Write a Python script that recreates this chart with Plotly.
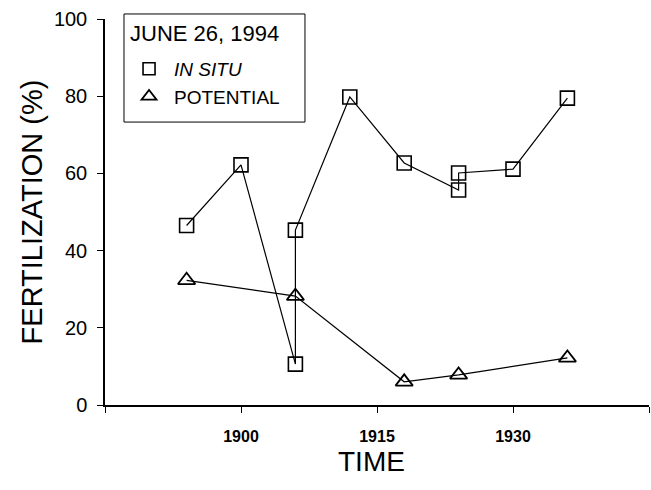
import plotly.graph_objects as go

DATE = "1994-06-26"
legend_title = "JUNE 26, 1994"
insitu_time = ["18:54", "19:00", "19:06", "19:06", "19:12", "19:18", "19:24", "19:24", "19:30", "19:36"]
insitu_pct = [46.5, 62.2, 10.6, 45.3, 79.8, 62.7, 55.7, 60.1, 61.1, 79.5]
potential_time = ["18:54", "19:06", "19:18", "19:24", "19:36"]
potential_pct = [32.3, 28.2, 6.0, 7.8, 12.2]
x_tick_times = ["18:45", "19:00", "19:15", "19:30", "19:45"]
x_tick_labels = ["", "1900", "1915", "1930", ""]
y_ticks = [0, 20, 40, 60, 80, 100]
x_title = "TIME"
y_title = "FERTILIZATION (%)"


def ts(t):
    return f"{DATE} {t}:00"


FONT = "Liberation Sans, Arial, sans-serif"

fig = go.Figure()

sq_marker = dict(symbol="square-open", size=14, color="black", line=dict(width=1.6, color="black"))
tri_marker = dict(symbol="triangle-up-open", size=15, color="black", line=dict(width=1.8, color="black"))

fig.add_trace(go.Scatter(
    x=[ts(t) for t in insitu_time], y=insitu_pct, mode="lines+markers",
    line=dict(color="black", width=1.2), marker=sq_marker, showlegend=False))
fig.add_trace(go.Scatter(
    x=[ts(t) for t in potential_time], y=potential_pct, mode="lines+markers",
    line=dict(color="black", width=1.2), marker=tri_marker, showlegend=False))

# legend-only entries (markers only)
fig.add_trace(go.Scatter(x=[None], y=[None], mode="markers", marker=dict(sq_marker, size=12),
                         name="<i>IN SITU</i>"))
fig.add_trace(go.Scatter(x=[None], y=[None], mode="markers", marker=dict(tri_marker, size=13),
                         name="POTENTIAL"))

# legend frame + title
fig.add_shape(type="rect", xref="paper", yref="paper",
              x0=0.0349, x1=0.3676, y0=0.733, y1=1.013,
              line=dict(color="black", width=1), fillcolor="white", layer="below")
fig.add_annotation(text=legend_title, xref="paper", yref="paper",
                   x=0.043, y=0.962, xanchor="left", yanchor="middle",
                   showarrow=False, font=dict(size=22))

# x-axis title
fig.add_annotation(text=x_title, xref="paper", yref="paper",
                   x=0.489, y=-0.147, xanchor="center", yanchor="middle",
                   showarrow=False, font=dict(size=28))

fig.update_layout(
    width=651, height=490,
    margin=dict(l=105, r=2, t=19, b=85),
    paper_bgcolor="white", plot_bgcolor="white",
    font=dict(family=FONT, color="black"),
    legend=dict(
        font=dict(size=19),
        x=0.035, y=0.920, xanchor="left", yanchor="top",
        bgcolor="rgba(0,0,0,0)", borderwidth=0,
        itemwidth=40, tracegroupgap=0,
    ),
)

fig.update_xaxes(
    type="date",
    range=[ts(x_tick_times[0]), ts(x_tick_times[-1])],
    tickmode="array", tickvals=[ts(t) for t in x_tick_times], ticktext=x_tick_labels,
    ticks="outside", ticklen=6, tickwidth=1.2, tickcolor="black",
    showline=True, linecolor="black", linewidth=1.5,
    showgrid=False, zeroline=False,
    tickfont=dict(size=16, family="Liberation Sans, Arial", weight="bold"),
    ticklabelstandoff=10,
)
fig.update_yaxes(
    range=[0, 100], tickmode="array", tickvals=y_ticks,
    ticks="outside", ticklen=6, tickwidth=1.2, tickcolor="black",
    showline=True, linecolor="black", linewidth=1.5,
    showgrid=False, zeroline=False,
    tickfont=dict(size=20),
    ticklabelstandoff=6,
    title=dict(text=y_title, font=dict(size=29), standoff=3),
)

fig.write_html("out.html")
